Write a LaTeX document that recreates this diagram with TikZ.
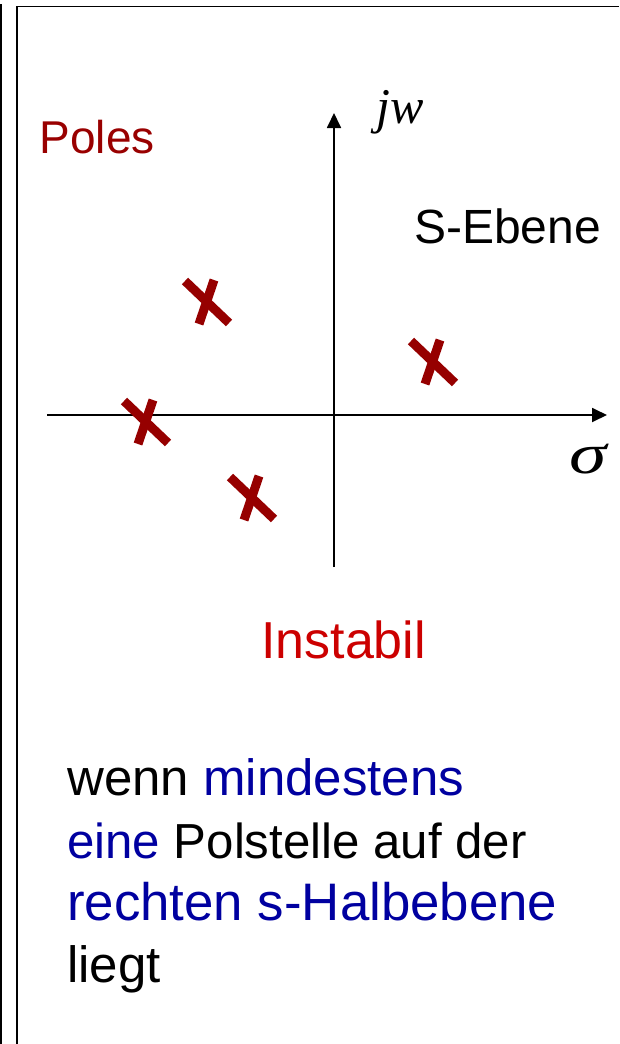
\documentclass[tikz,border=0pt]{standalone}
\usepackage{fontspec}
\setmainfont{Liberation Sans}
\newfontfamily\serifit{Liberation Serif}[ItalicFont={Liberation Serif Italic}]
\usepackage{tikz}
\usetikzlibrary{arrows.meta,positioning,calc}
\definecolor{polered}{RGB}{153,0,0}
\definecolor{xred}{RGB}{150,0,0}
\definecolor{instred}{RGB}{204,0,0}
\definecolor{textblue}{RGB}{0,0,160}

\begin{document}
\begin{tikzpicture}[x=1pt,y=-1pt,>={Triangle[length=15pt,width=14pt]}]
    \tikzset{
        frame/.style={line width=1.8pt,black},
        axis/.style={line width=1.8pt,->},
        polemark/.style={line width=9pt,xred,line cap=butt},
        bigtext/.style={inner sep=0pt,anchor=base west,font=\fontsize{51}{62}\selectfont},
        smalltext/.style={inner sep=0pt,anchor=base west,font=\fontsize{48}{52}\selectfont}
    }
    \useasboundingbox (0,0) rectangle (619,1044);

    % Frame lines
    \draw[line width=1.5pt] (1,4) -- (1,1044);
    \draw[frame] (17,1044) -- (17,6.5) -- (619,6.5);

    % Axes
    \coordinate (O) at (334,415);
    \coordinate (X_L) at (47,415);
    \coordinate (X_R) at (607,415);
    \coordinate (Y_B) at (334,567);
    \coordinate (Y_T) at (334,113);
    \draw[axis] (X_L) -- (X_R);
    \draw[axis] (Y_B) -- (Y_T);

    \node[inner sep=0pt,anchor=base west,font=\fontsize{50}{56}\selectfont\serifit\itshape] (jw) at (376,123) {jw};
    \node[inner sep=0pt,anchor=base west,font=\fontsize{62}{66}\selectfont\serifit\itshape] (sigma) at (569,473) {\scalebox{1.22}[0.92]{σ}};

    % Poles
    \coordinate (P1) at (207,302);
    \coordinate (P2) at (146,422);
    \coordinate (P3) at (252,498);
    \coordinate (P4) at (433,362);
    \foreach \p in {P1,P2,P3,P4} {
        \draw[polemark] ($(\p)+(-22,-21)$) -- ($(\p)+(22,21)$);
        \draw[polemark] ($(\p)+(7,-22)$) -- ($(\p)+(-8,22)$);
    }

    % Labels
    \node[smalltext,polered,font=\fontsize{46}{52}\selectfont] (poles) at (39.5,153) {Poles};
    \node[smalltext] (ebene) at (414,243) {S-Ebene};
    \node[bigtext,instred,font=\fontsize{52}{62}\selectfont] (instabil) at (261,658) {Instabil};

    % Condition text
    \node[bigtext] (line1) at (67,795) {wenn \textcolor{textblue}{mindestens}};
    \node[bigtext,font=\fontsize{49.2}{62}\selectfont] (line2) at (67,858) {\textcolor{textblue}{eine} Polstelle auf der};
    \node[bigtext,textblue,font=\fontsize{52.8}{62}\selectfont] (line3) at (67,920) {rechten s-Halbebene};
    \node[bigtext] (line4) at (67,982) {liegt};
\end{tikzpicture}
\end{document}
